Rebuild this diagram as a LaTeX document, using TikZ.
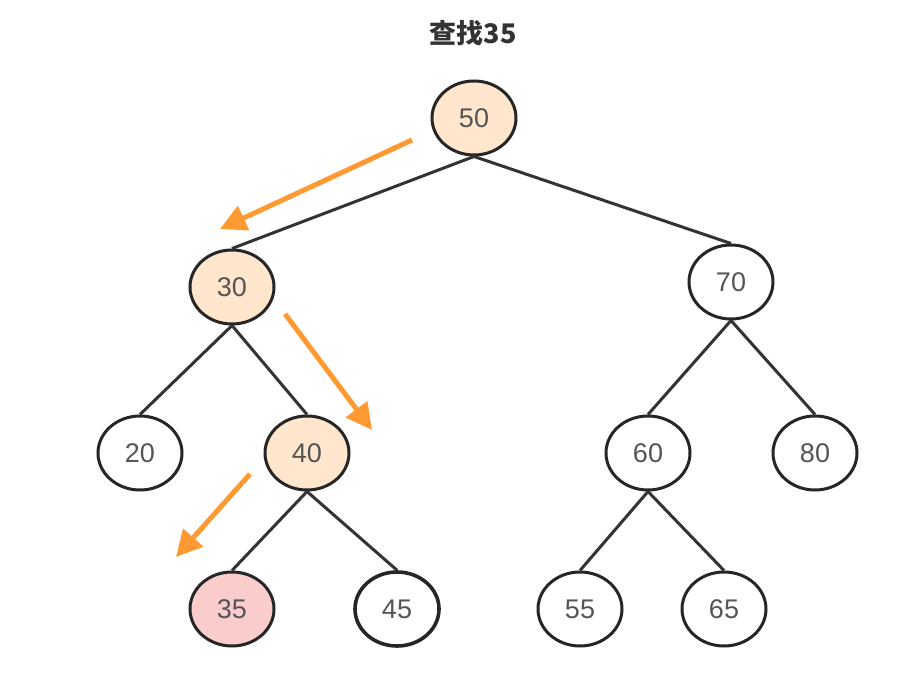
\documentclass[tikz,border=0pt]{standalone}
\usepackage{fontspec}
\setmainfont{Liberation Sans}
\newfontfamily\cjk{Noto Sans CJK SC}
\usetikzlibrary{shapes.geometric,arrows.meta}
\definecolor{peach}{HTML}{FFE6CC}
\definecolor{pinkish}{HTML}{FACCCC}
\definecolor{arrorange}{HTML}{FF9A33}
\definecolor{txtgray}{HTML}{555555}
\tikzset{
  tnode/.style={ellipse, draw=black!85, line width=3pt, minimum width=84pt, minimum height=74pt, inner sep=0pt, font=\fontsize{27}{30}\selectfont, text=txtgray, fill=white},
  visited/.style={tnode, fill=peach},
  found/.style={tnode, fill=pinkish},
  edge/.style={draw=black!80, line width=3pt},
  path/.style={draw=arrorange, line width=5pt, -{Triangle[length=26pt,width=26pt]}}
}
\begin{document}
\begin{tikzpicture}[x=1pt,y=-1pt]
\useasboundingbox (0,0) rectangle (921,676);
\node[font=\cjk\bfseries\fontsize{27}{30}\selectfont, text=black!80] (title) at (473,33) {查找35};
\node[visited] (n50) at (474,118) {50};
\node[visited] (n30) at (232,287) {30};
\node[tnode] (n70) at (731,282) {70};
\node[tnode] (n20) at (140,453) {20};
\node[visited] (n40) at (307,453) {40};
\node[tnode] (n60) at (648,453) {60};
\node[tnode] (n80) at (815,453) {80};
\node[found] (n35) at (232,609) {35};
\node[tnode, line width=3.6pt] (n45) at (397,609) {45};
\node[tnode] (n55) at (580,609) {55};
\node[tnode] (n65) at (724,609) {65};
\draw[edge] (n50.south) -- (n30.north);
\draw[edge] (n50.south) -- (n70.north);
\draw[edge] (n30.south) -- (n20.north);
\draw[edge] (n30.south) -- (n40.north);
\draw[edge] (n40.south) -- (n35.north);
\draw[edge] (n40.south) -- (n45.north);
\draw[edge] (n70.south) -- (n60.north);
\draw[edge] (n70.south) -- (n80.north);
\draw[edge] (n60.south) -- (n55.north);
\draw[edge] (n60.south) -- (n65.north);
\coordinate (a1s) at (412,140);
\coordinate (a1e) at (220,229);
\coordinate (a2s) at (285,314);
\coordinate (a2e) at (372,430);
\coordinate (a3s) at (250,474);
\coordinate (a3e) at (176,557);
\draw[path] (a1s) -- (a1e);
\draw[path] (a2s) -- (a2e);
\draw[path] (a3s) -- (a3e);
\end{tikzpicture}
\end{document}
